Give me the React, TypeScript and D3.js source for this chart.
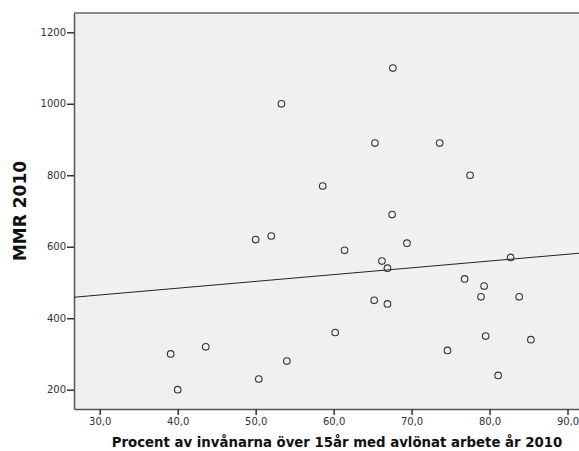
import React, {useRef, useEffect} from "react"
import * as d3 from "d3"

// percent employed (x) and MMR 2010 (y)
const employed = [39.1, 40.0, 43.6, 50.0, 52.0, 50.4, 54.0, 53.3, 58.6, 61.4, 60.2, 65.3, 65.2, 66.2, 66.9, 66.9, 67.6, 67.5, 69.4, 73.6, 77.5, 76.8, 79.3, 78.9, 83.8, 82.7, 79.5, 85.3, 74.6, 81.1]
const mmr = [300, 200, 320, 620, 630, 230, 280, 1000, 770, 590, 360, 890, 450, 560, 540, 440, 1100, 690, 610, 890, 800, 510, 490, 460, 460, 570, 350, 340, 310, 240]

const xTicks = [30, 40, 50, 60, 70, 80, 90]
const yTicks = [200, 400, 600, 800, 1000, 1200]

// linear fit line
const fitIntercept = 408
const fitSlope = 1.9

const W = 579, H = 451

const App = () => {
    let element = useRef<SVGSVGElement>(null)

    useEffect(() => {
        let margin = {top: 13, right: -1, bottom: 42, left: 74}
        let width = W - margin.left - margin.right,
            height = H - margin.top - margin.bottom

        let root = d3.select(element.current)
        root.selectAll("*").remove()

        let svg = root.append("g")
            .attr("transform", "translate(" + margin.left + "," + margin.top + ")")

        let x = d3.scaleLinear().domain([26.7, 91.6]).range([0, width])
        let y = d3.scaleLinear().domain([146, 1254]).range([height, 0])

        svg.append("rect")
            .attr("width", width)
            .attr("height", height)
            .attr("fill", "#f0f0f0")

        // top border
        svg.append("line")
            .attr("x1", 0).attr("x2", width)
            .attr("y1", 0).attr("y2", 0)
            .attr("stroke", "#8a8a8a")
            .attr("stroke-width", 2)

        let font = "'DejaVu Sans', Verdana, sans-serif"

        let xAxis = svg.append("g")
            .attr("transform", "translate(0," + height + ")")
            .call(d3.axisBottom(x).tickValues(xTicks).tickSize(6).tickSizeOuter(0)
                .tickFormat(d => d3.format(".1f")(d as number).replace(".", ",")))
        xAxis.select(".domain").attr("stroke", "#555").attr("stroke-width", 1.5)
        xAxis.selectAll(".tick line").attr("stroke", "#333").attr("stroke-width", 1.5)
        xAxis.selectAll(".tick text")
            .attr("fill", "#333")
            .attr("y", 9)
            .style("font-family", font)
            .style("font-size", "10px")

        let yAxis = svg.append("g")
            .call(d3.axisLeft(y).tickValues(yTicks).tickSize(7).tickSizeOuter(0)
                .tickFormat(d => String(d)))
        yAxis.select(".domain").attr("stroke", "#555").attr("stroke-width", 1.5)
        yAxis.selectAll(".tick line").attr("stroke", "#333").attr("stroke-width", 1.5)
        yAxis.selectAll(".tick text")
            .attr("fill", "#333")
            .attr("x", -8)
            .style("font-family", font)
            .style("font-size", "10px")

        // fit line
        let [x0, x1] = x.domain()
        svg.append("line")
            .attr("x1", x(x0)).attr("y1", y(fitIntercept + fitSlope * x0))
            .attr("x2", x(x1)).attr("y2", y(fitIntercept + fitSlope * x1))
            .attr("stroke", "#222")
            .attr("stroke-width", 1)

        svg.append("g")
            .selectAll("circle")
            .data(employed.map((e, i) => ({e, m: mmr[i]})))
            .enter()
                .append("circle")
                .attr("cx", d => x(d.e))
                .attr("cy", d => y(d.m))
                .attr("r", 3.3)
                .attr("fill", "none")
                .attr("stroke", "#333")
                .attr("stroke-width", 1.1)

        root.append("text")
            .attr("transform", "translate(26,211) rotate(-90)")
            .attr("text-anchor", "middle")
            .style("font-family", font)
            .style("font-weight", "bold")
            .style("font-size", "17px")
            .attr("fill", "#111")
            .text("MMR 2010")

        root.append("text")
            .attr("x", 337)
            .attr("y", 447)
            .attr("text-anchor", "middle")
            .style("font-family", font)
            .style("font-weight", "bold")
            .style("font-size", "13.3px")
            .attr("fill", "#111")
            .text("Procent av invånarna över 15år med avlönat arbete år 2010")
    }, [])

    return (
        <svg ref={element} width={W} height={H}
            style={{position: "absolute", left: 0, top: 0, background: "#fff"}}></svg>
    )
}

export default App
